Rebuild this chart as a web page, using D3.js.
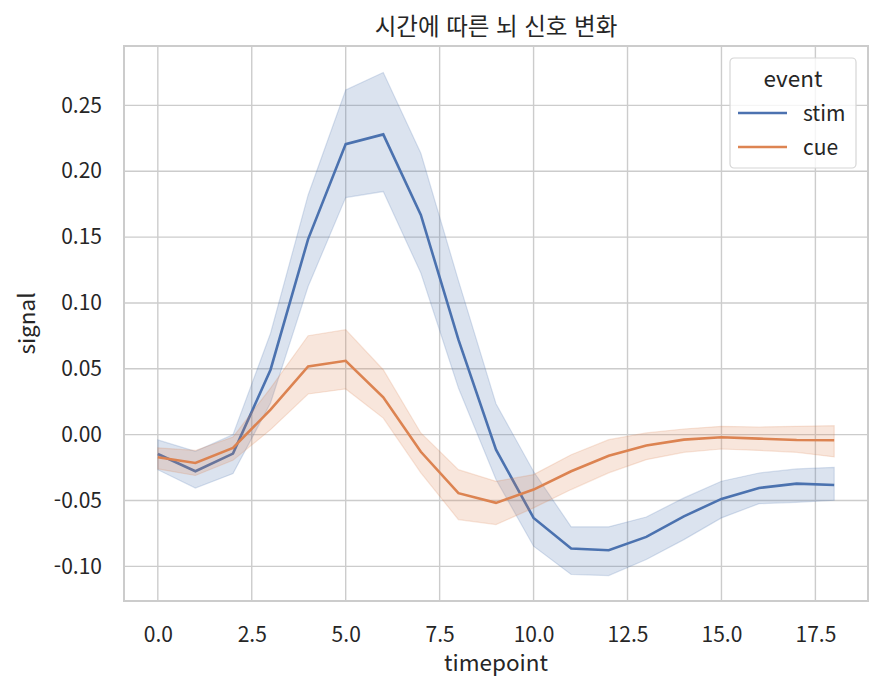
<!DOCTYPE html>
<html lang="ko">
<head>
    <meta charset="UTF-8">
    <title>시간에 따른 뇌 신호 변화</title>
    <script src="https://d3js.org/d3.v7.min.js"></script>
    <style>
        body {margin: 0; background: white;}
        text {font-family: "Noto Sans CJK KR", "Noto Sans", sans-serif; fill: #262626;}
    </style>
</head>
<body>
<script>
    const timepoints = d3.range(0, 19);
    const events = ["stim", "cue"];

    const stimMean = [-0.0147, -0.0278, -0.0144, 0.0493, 0.1485, 0.2206, 0.228, 0.1669, 0.0721, -0.0114,
        -0.0632, -0.0865, -0.0878, -0.0776, -0.062, -0.0488, -0.0405, -0.0372, -0.0382];
    const stimLow = [-0.0266, -0.0405, -0.0296, 0.024, 0.1125, 0.180, 0.1846, 0.1227, 0.0354, -0.034,
        -0.0847, -0.1062, -0.107, -0.0948, -0.0797, -0.0632, -0.0524, -0.0514, -0.0498];
    const stimHigh = [-0.004, -0.0126, 0.000, 0.077, 0.182, 0.2617, 0.275, 0.2137, 0.117, 0.0235,
        -0.028, -0.070, -0.070, -0.0625, -0.048, -0.0354, -0.0291, -0.026, -0.0248];

    const cueMean = [-0.0172, -0.0215, -0.0101, 0.019, 0.0518, 0.0561, 0.0283, -0.013, -0.0444, -0.0518,
        -0.0417, -0.0278, -0.016, -0.0083, -0.0038, -0.002, -0.003, -0.004, -0.0043];
    const cueLow = [-0.026, -0.031, -0.0195, 0.0038, 0.0309, 0.0347, 0.0126, -0.029, -0.0645, -0.0683,
        -0.0556, -0.0417, -0.029, -0.019, -0.0134, -0.0109, -0.012, -0.0134, -0.0169];
    const cueHigh = [-0.010, -0.012, -0.0018, 0.0354, 0.0751, 0.0797, 0.0493, 0.0013, -0.0266, -0.0354,
        -0.0303, -0.0152, -0.0038, 0.0013, 0.0043, 0.0063, 0.0058, 0.0063, 0.0068];

    const xTicks = [0, 2.5, 5, 7.5, 10, 12.5, 15, 17.5];
    const yTicks = [-0.10, -0.05, 0.00, 0.05, 0.10, 0.15, 0.20, 0.25];

    const width = 882;
    const height = 691;
    const margin = {top: 46, right: 14, bottom: 90, left: 124};

    const color = d3.scaleOrdinal().domain(events).range(["#4c72b0", "#dd8452"]);
    const series = [
        {event: "stim", mean: stimMean, low: stimLow, high: stimHigh},
        {event: "cue", mean: cueMean, low: cueLow, high: cueHigh}
    ];

    const svg = d3.select("body").append("svg")
            .attr("width", width).attr("height", height);

    const x = d3.scaleLinear().domain([-0.9, 18.9])
            .range([margin.left, width - margin.right]);
    const y = d3.scaleLinear().domain([-0.1263, 0.2951])
            .range([height - margin.bottom, margin.top]);

    // grid
    svg.append("g").selectAll("line.vgrid")
            .data(xTicks).enter().append("line")
            .attr("x1", d => x(d)).attr("x2", d => x(d))
            .attr("y1", margin.top).attr("y2", height - margin.bottom)
            .style("stroke", "#cccccc").style("stroke-width", 1.4);
    svg.append("g").selectAll("line.hgrid")
            .data(yTicks).enter().append("line")
            .attr("y1", d => y(d)).attr("y2", d => y(d))
            .attr("x1", margin.left).attr("x2", width - margin.right)
            .style("stroke", "#cccccc").style("stroke-width", 1.4);

    // tick labels (no tick marks)
    const xAxis = svg.append("g")
            .attr("transform", `translate(0,${height - margin.bottom})`)
            .call(d3.axisBottom(x).tickValues(xTicks).tickFormat(d3.format(".1f")).tickSize(0).tickPadding(26));
    const yAxis = svg.append("g")
            .attr("transform", `translate(${margin.left},0)`)
            .call(d3.axisLeft(y).tickValues(yTicks).tickFormat(d => d3.format(".2f")(d).replace("−", "-")).tickSize(0).tickPadding(22));
    [xAxis, yAxis].forEach(a => {
        a.select(".domain").remove();
        a.selectAll("text").style("font-size", "21px").style("fill", "#262626")
                .style("font-family", '"Noto Sans CJK KR", sans-serif');
    });

    // lines then confidence bands
    const line = d3.line().x((d, i) => x(timepoints[i])).y(d => y(d));
    const area = d3.area().x((d, i) => x(timepoints[i]))
            .y0(d => y(d[0])).y1(d => y(d[1]));

    series.forEach(s => {
        svg.append("path")
                .datum(s.mean)
                .attr("d", line)
                .style("fill", "none")
                .style("stroke", color(s.event))
                .style("stroke-width", 2.6);
        svg.append("path")
                .datum(s.low.map((v, i) => [v, s.high[i]]))
                .attr("d", area)
                .style("fill", color(s.event))
                .style("fill-opacity", 0.2)
                .style("stroke", color(s.event))
                .style("stroke-opacity", 0.2)
                .style("stroke-width", 1.2);
    });

    // frame
    svg.append("rect")
            .attr("x", margin.left).attr("y", margin.top)
            .attr("width", width - margin.left - margin.right)
            .attr("height", height - margin.top - margin.bottom)
            .style("fill", "none").style("stroke", "#cccccc").style("stroke-width", 2);

    // titles
    svg.append("text")
            .attr("x", (margin.left + width - margin.right) / 2).attr("y", 35)
            .attr("text-anchor", "middle")
            .style("font-size", "23.5px")
            .text("시간에 따른 뇌 신호 변화");
    svg.append("text")
            .attr("x", (margin.left + width - margin.right) / 2).attr("y", 671)
            .attr("text-anchor", "middle")
            .style("font-size", "22.5px")
            .text("timepoint");
    svg.append("text")
            .attr("transform", `translate(35,${(margin.top + height - margin.bottom) / 2}) rotate(-90)`)
            .attr("text-anchor", "middle")
            .style("font-size", "22.5px")
            .text("signal");

    // legend
    const legend = svg.append("g").attr("transform", "translate(730,58)");
    legend.append("rect")
            .attr("width", 126).attr("height", 110).attr("rx", 4)
            .style("fill", "white").style("fill-opacity", 0.8)
            .style("stroke", "#d6d6d6").style("stroke-width", 1.2);
    legend.append("text")
            .attr("x", 63).attr("y", 29).attr("text-anchor", "middle")
            .style("font-size", "22.5px").text("event");
    const items = legend.selectAll("g.item")
            .data(events).enter().append("g")
            .attr("class", "item")
            .attr("transform", (d, i) => `translate(0,${55 + i * 34})`);
    items.append("line")
            .attr("x1", 8).attr("x2", 57)
            .style("stroke", d => color(d)).style("stroke-width", 2.6);
    items.append("text")
            .attr("x", 73).attr("y", 8)
            .style("font-size", "21px").text(d => d);
</script>
</body>
</html>
